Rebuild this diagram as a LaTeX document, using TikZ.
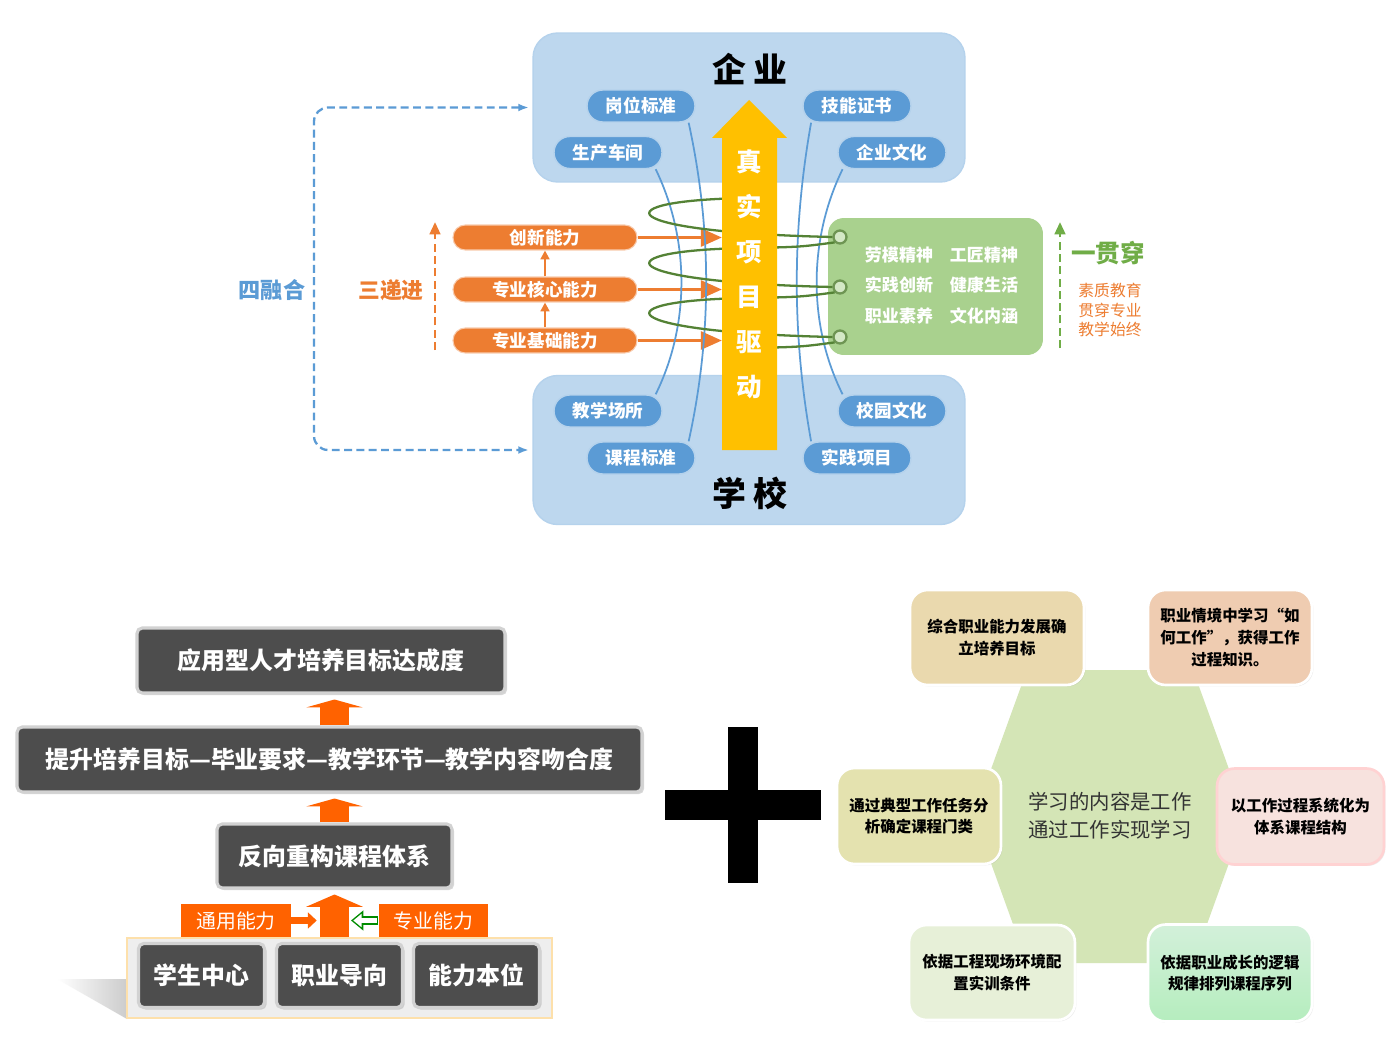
\documentclass[tikz,border=0pt]{standalone}
\usepackage{fontspec}
\setmainfont{Noto Sans CJK SC}
\usetikzlibrary{arrows.meta,shadows}

\definecolor{boxblue}{HTML}{BDD7EE}
\definecolor{pillblue}{HTML}{5B9BD5}
\definecolor{orangeB}{HTML}{ED7D31}
\definecolor{goldY}{HTML}{FFC000}
\definecolor{greenB}{HTML}{A9D18E}
\definecolor{greenD}{HTML}{548235}
\definecolor{greenM}{HTML}{70AD47}
\definecolor{darkbox}{HTML}{4D4D4D}
\definecolor{hotorange}{HTML}{FF6200}
\definecolor{hexgreen}{HTML}{D4E5B6}
\definecolor{tanbox}{HTML}{EAD9AE}
\definecolor{peachbox}{HTML}{EFCCB1}
\definecolor{khakibox}{HTML}{E4E2AF}
\definecolor{pinkbox}{HTML}{F7E2DE}
\definecolor{palebox}{HTML}{E7F0D8}
\definecolor{mintbox}{HTML}{B5E6C1}

\tikzset{
  bigbox/.style={rectangle, rounded corners=14pt, fill=boxblue, draw=pillblue!45,
    line width=0.8pt, minimum width=8.64cm, minimum height=2.98cm},
  pill/.style={rectangle, rounded corners=9pt, fill=pillblue, draw=white!55!pillblue,
    line width=0.8pt, text=white, font=\bfseries\fontsize{10}{12}\selectfont,
    minimum width=2.16cm, minimum height=0.64cm, inner sep=0pt},
  opill/.style={rectangle, rounded corners=7pt, fill=orangeB, draw=white!60!orangeB,
    line width=0.6pt, text=white, font=\bfseries\fontsize{10}{12}\selectfont,
    minimum width=3.68cm, minimum height=0.5cm, inner sep=0pt},
  curve/.style={pillblue, line width=1pt},
  coil/.style={greenD, line width=1.3pt},
  ring/.style={circle, draw=greenD!85, fill=greenB!50!white, line width=1.3pt,
    minimum size=0.26cm, inner sep=0pt},
  longdash/.style={dash pattern=on 4.5pt off 2.5pt},
  darkbox/.style={rectangle, rounded corners=3pt, fill=darkbox, draw=gray!35,
    line width=1.8pt, text=white, font=\bfseries\fontsize{13.6}{16}\selectfont,
    inner sep=0pt, drop shadow={shadow xshift=1.2pt, shadow yshift=-1.2pt, opacity=0.3}},
  upblk/.style={hotorange, line width=17pt, -{Triangle[length=4.5pt,width=32pt]}},
  orect/.style={rectangle, fill=hotorange, text=white, inner sep=0pt,
    font=\fontsize{11.3}{13}\selectfont, minimum width=2.2cm, minimum height=0.66cm},
  rbox/.style={rectangle, rounded corners=10pt, draw=white, line width=1.5pt,
    align=center, inner sep=0pt, font=\bfseries\fontsize{8.8}{12.3}\selectfont,
    drop shadow={shadow xshift=0.8pt, shadow yshift=-0.8pt, opacity=0.15}}
}

\begin{document}
\begin{tikzpicture}[x=0.02cm, y=-0.02cm]
  \useasboundingbox (0,0) rectangle (1400,1051);
  \fill[white] (0,0) rectangle (1400,1051);
  %%%%%%%%%%%%%%%%%%%%%%%%%%%%%%%%%%%%%%%%%%%%%%
  %%% Top part: enterprise and school
  %%%%%%%%%%%%%%%%%%%%%%%%%%%%%%%%%%%%%%%%%%%%%%
  \node[bigbox] (ent) at (749,107.5) {};
  \node[bigbox] (sch) at (749,450) {};
  \node[font=\bfseries\fontsize{19.3}{22}\selectfont] (entT) at (750,69) {企 业};
  \node[font=\bfseries\fontsize{19.3}{22}\selectfont] (schT) at (750,493) {学 校};
  % four-fold link on the left
  \draw[pillblue, longdash, line width=1.3pt, rounded corners=8pt, {Latex[length=6pt]}-{Latex[length=6pt]}]
       ([xshift=-2pt]ent.west) -| (314,280) |- ([xshift=-2pt]sch.west);
  \node[text=pillblue, font=\bfseries\fontsize{12.6}{14}\selectfont] (shrh) at (272,290) {四融合};
  % pills in the two boxes
  \node[pill] (gwbz) at (641,106) {岗位标准};
  \node[pill] (jnzs) at (857,106) {技能证书};
  \node[pill] (sccj) at (608,152.5) {生产车间};
  \node[pill] (qywh) at (892,152.5) {企业文化};
  \node[pill] (jxcs) at (608,411) {教学场所};
  \node[pill] (xywh) at (892,411) {校园文化};
  \node[pill] (kcbz) at (641,458) {课程标准};
  \node[pill] (sjxm) at (857,458) {实践项目};

  % three steps, orange
  \node[opill] (cxnl) at (545,237.5) {创新能力};
  \node[opill] (zyhx) at (545,289.5) {专业核心能力};
  \node[opill] (zyjc) at (545,340.5) {专业基础能力};
  \draw[orangeB, line width=1.2pt, -{Triangle[length=5pt,width=5pt]}] (zyjc.north) -- (zyhx.south);
  \draw[orangeB, line width=1.2pt, -{Triangle[length=5pt,width=5pt]}] (zyhx.north) -- (cxnl.south);
  \coordinate (ysw) at (722,450);
  \foreach \n in {cxnl,zyhx,zyjc}
      \draw[orangeB, line width=2.2pt, -{Triangle[length=12pt,width=10pt]}] (\n.east) -- (\n.east -| ysw);
  \draw[orangeB, longdash, line width=1.5pt, -{Triangle[length=7pt,width=6pt]}] (435,350) -- (435,222);
  \node[text=orangeB, font=\bfseries\fontsize{12.4}{14}\selectfont] (sdj) at (391,290) {三递进};

  % field lines from enterprise to school
  \draw[curve] ([xshift=-4pt]sccj.south east) .. controls (690,240) and (690,325) .. ([xshift=-4pt]jxcs.north east);
  \draw[curve] ([xshift=-4pt]gwbz.south east) .. controls (712,230) and (712,335) .. ([xshift=-4pt]kcbz.north east);
  \draw[curve] ([xshift=5pt]jnzs.south west) .. controls (792,230) and (792,335) .. ([xshift=5pt]sjxm.north west);
  \draw[curve] ([xshift=3pt]qywh.south west) .. controls (808,240) and (808,325) .. ([xshift=3pt]xywh.north west);

  % quality box, green
  \node[rectangle, rounded corners=9pt, fill=greenB, minimum width=4.3cm, minimum height=2.74cm] (gbox) at (935.5,286.5) {};
  \foreach \a/\b/\y [count=\k] in {劳模精神/工匠精神/255, 实践创新/健康生活/285, 职业素养/文化内涵/316}
  {
      \node[text=white, font=\bfseries\fontsize{9.7}{11}\selectfont] (gl\k) at (899,\y) {\a};
      \node[text=white, font=\bfseries\fontsize{9.7}{11}\selectfont] (gr\k) at (984,\y) {\b};
  }
  \node[ring] (r1) at (840,237) {};
  \node[ring] (r2) at (840,287) {};
  \node[ring] (r3) at (840,337) {};
  % the coil round the project arrow
  \foreach \i/\r in {0/r1,1/r2,2/r3}
  {
      \draw[coil] (749,{198+50*\i}) .. controls (600,{200+50*\i}) and (610,{232+50*\i}) .. (\r.west);
      \draw[coil] (\r.south west) .. controls (800,{247+50*\i}) .. (749,{248+50*\i});
  }
  \draw[greenM, longdash, line width=1.5pt, -{Triangle[length=7pt,width=6pt]}] (1060,348) -- (1060,222);
  \node[text=greenM, font=\bfseries\fontsize{14}{16}\selectfont] (ygc) at (1108,253) {一贯穿};
  \node[text=orangeB, align=center, font=\fontsize{9}{11.3}\selectfont] (szjy) at (1110,310) {素质教育\\贯穿专业\\教学始终};

  % real project arrow, yellow
  \fill[goldY] (722,450) -- (722,138) -- (712,138) -- (749,100) -- (787,138) -- (777,138) -- (777,450) -- cycle;
  \foreach \c [count=\k] in {真,实,项,目,驱,动}
      \node[text=white, font=\bfseries\fontsize{14.5}{16}\selectfont] (yt\k) at (749,{117+45*\k}) {\c};

  %%%%%%%%%%%%%%%%%%%%%%%%%%%%%%%%%%%%%%%%%%%%%%
  %%% Bottom left: reverse design
  %%%%%%%%%%%%%%%%%%%%%%%%%%%%%%%%%%%%%%%%%%%%%%
  \shade[left color=white, right color=gray!40] (57,979) -- (127,979) -- (127,1019) -- cycle;
  \node[rectangle, fill=gray!13, draw=yellow!25!orange!30, line width=0.8pt, minimum width=8.5cm, minimum height=1.6cm] (plat) at (339.5,978) {};
  \node[darkbox, minimum width=2.52cm, minimum height=1.28cm] (xszx) at (201.5,975.5) {学生中心};
  \node[darkbox, minimum width=2.52cm, minimum height=1.28cm] (zydx) at (339.5,975.5) {职业导向};
  \node[darkbox, minimum width=2.52cm, minimum height=1.28cm] (nlbw) at (476.5,975.5) {能力本位};

  \node[darkbox, minimum width=7.36cm, minimum height=1.3cm] (b1) at (321,660.5) {应用型人才培养目标达成度};
  \node[darkbox, minimum width=12.5cm, minimum height=1.3cm] (b2) at (329.5,759.5) {提升培养目标—毕业要求—教学环节—教学内容吻合度};
  \node[darkbox, minimum width=4.7cm, minimum height=1.28cm] (b3) at (334.5,856) {反向重构课程体系};

  \draw[upblk, shorten >=2.8pt] (b2.north -| b3) -- (b1.south -| b3);
  \draw[upblk, shorten >=2.8pt] (b3.north) -- (b2.south -| b3);
  \draw[upblk, -{Triangle[length=7pt,width=32pt]}, shorten >=2.8pt] (plat.north -| b3) -- (b3.south);

  \node[orect] (tynl) at (236,920.5) {通用能力};
  \node[orect] (zynl) at (433.5,920.5) {专业能力};
  \coordinate (shaftL) at (319,920.5);
  \coordinate (shaftR) at (351,920.5);
  \draw[white, line width=5.4pt, -{Triangle[length=7pt,width=12pt]}] (tynl.east) -- (shaftL);
  \draw[hotorange, line width=3.8pt, -{Triangle[length=5pt,width=9pt]}, shorten >=1.3pt] (tynl.east) -- (shaftL);
  \draw[green!55!black, line width=4.6pt, -{Triangle[length=7pt,width=11pt]}] (zynl.west) -- (shaftR);
  \draw[white, line width=3pt, -{Triangle[length=4.8pt,width=7.5pt]}, shorten >=1.3pt] ([xshift=-0.8pt]zynl.west) -- (shaftR);

  % plus sign
  \fill[black] (728,727) rectangle (758,883);
  \fill[black] (665,790) rectangle (821,820);

  %%%%%%%%%%%%%%%%%%%%%%%%%%%%%%%%%%%%%%%%%%%%%%
  %%% Bottom right: learning through work
  %%%%%%%%%%%%%%%%%%%%%%%%%%%%%%%%%%%%%%%%%%%%%%
  \fill[hexgreen] (1027,670) -- (1193,670) -- (1246,816) -- (1193,963) -- (1027,963) -- (974,816) -- cycle;
  \node[text=black!80, align=center, font=\fontsize{11.6}{16}\selectfont] (ctr) at (1110,816) {学习的内容是工作\\通过工作实现学习};

  \node[rbox, fill=tanbox, minimum width=3.48cm, minimum height=1.9cm] (rb1) at (997,637.5) {综合职业能力发展确\\立培养目标};
  \node[rbox, fill=peachbox, minimum width=3.28cm, minimum height=1.9cm] (rb2) at (1230,637.5) {职业情境中学习“如\\何工作”，获得工作\\过程知识。};
  \node[rbox, fill=khakibox, minimum width=3.28cm, minimum height=1.92cm] (rb3) at (919,816) {通过典型工作任务分\\析确定课程门类};
  \node[rbox, fill=pinkbox, draw=pink!70!white, minimum width=3.34cm, minimum height=1.92cm] (rb4) at (1300.5,816.5) {以工作过程系统化为\\体系课程结构};
  \node[rbox, fill=palebox, minimum width=3.32cm, minimum height=1.9cm] (rb5) at (992,972.5) {依据工程现场环境配\\置实训条件};
  \node[rbox, top color=mintbox!60!white, bottom color=mintbox!90!green!80, minimum width=3.28cm, minimum height=1.94cm] (rb6) at (1230,973) {依据职业成长的逻辑\\规律排列课程序列};
\end{tikzpicture}
\end{document}
